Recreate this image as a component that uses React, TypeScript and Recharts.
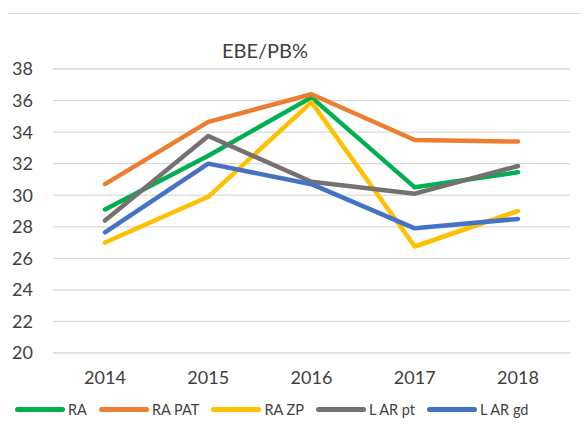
import { LineChart, Line, XAxis, YAxis, CartesianGrid } from 'recharts';

const years = ['2014', '2015', '2016', '2017', '2018'];
const ra = [29.1, 32.5, 36.2, 30.5, 31.45];
const raPat = [30.7, 34.65, 36.4, 33.5, 33.4];
const raZp = [27.0, 29.9, 35.9, 26.75, 29.0];
const larPt = [28.4, 33.75, 30.85, 30.1, 31.85];
const larGd = [27.65, 32.0, 30.7, 27.9, 28.5];
const yTicks = [20, 22, 24, 26, 28, 30, 32, 34, 36, 38];

const series = [
  { key: 'ra', name: 'RA', color: '#00B050', values: ra },
  { key: 'raPat', name: 'RA PAT', color: '#ED7D31', values: raPat },
  { key: 'raZp', name: 'RA ZP', color: '#FFC000', values: raZp },
  { key: 'larPt', name: 'L AR pt', color: '#767171', values: larPt },
  { key: 'larGd', name: 'L AR gd', color: '#4472C4', values: larGd },
];

const data = years.map((year, i) => {
  const row: any = { year };
  series.forEach((s) => {
    row[s.key] = s.values[i];
  });
  return row;
});

const font = 'Lato, "Open Sans", sans-serif';

export default function App() {
  return (
    <div
      style={{
        position: 'relative',
        width: 580,
        height: 419,
        overflow: 'hidden',
        fontFamily: font,
        background: '#fff',
      }}
    >
      <div
        style={{
          position: 'absolute',
          left: -3,
          top: 5,
          width: 800,
          height: 600,
          border: '1px solid #d9d9d9',
        }}
      />
      <div
        style={{
          position: 'absolute',
          left: 157,
          top: 30,
          width: 200,
          textAlign: 'center',
          fontSize: 20,
          color: '#404040',
        }}
      >
        EBE/PB%
      </div>
      <LineChart
        width={580}
        height={419}
        data={data}
        margin={{ top: 61, right: 18, bottom: 0, left: 0 }}
        style={{ position: 'absolute', left: 0, top: 0 }}
      >
        <CartesianGrid vertical={false} stroke="#d9d9d9" strokeWidth={1.3} />
        <XAxis
          dataKey="year"
          axisLine={false}
          tickLine={false}
          tickMargin={12}
          height={74}
          padding={{ left: 52, right: 52 }}
          tick={{ fill: '#404040', fontSize: 18, fontFamily: font }}
        />
        <YAxis
          domain={[20, 38]}
          ticks={yTicks}
          interval={0}
          axisLine={false}
          tickLine={false}
          tickMargin={14}
          width={45}
          tick={{ fill: '#404040', fontSize: 18, fontFamily: font }}
        />
        {series.map((s) => (
          <Line
            key={s.key}
            dataKey={s.key}
            name={s.name}
            stroke={s.color}
            strokeWidth={4.5}
            strokeLinecap="round"
            strokeLinejoin="round"
            dot={false}
            activeDot={false}
            isAnimationActive={false}
          />
        ))}
      </LineChart>
      <div
        style={{
          position: 'absolute',
          left: 7,
          top: 393,
          display: 'flex',
          gap: 12,
          alignItems: 'center',
          whiteSpace: 'nowrap',
          fontSize: 14.5,
          color: '#404040',
        }}
      >
        {series.map((s) => (
          <div key={s.key} style={{ display: 'flex', alignItems: 'center', gap: 3 }}>
            <div style={{ width: 50, height: 5, borderRadius: 3, background: s.color }} />
            <span>{s.name}</span>
          </div>
        ))}
      </div>
    </div>
  );
}
